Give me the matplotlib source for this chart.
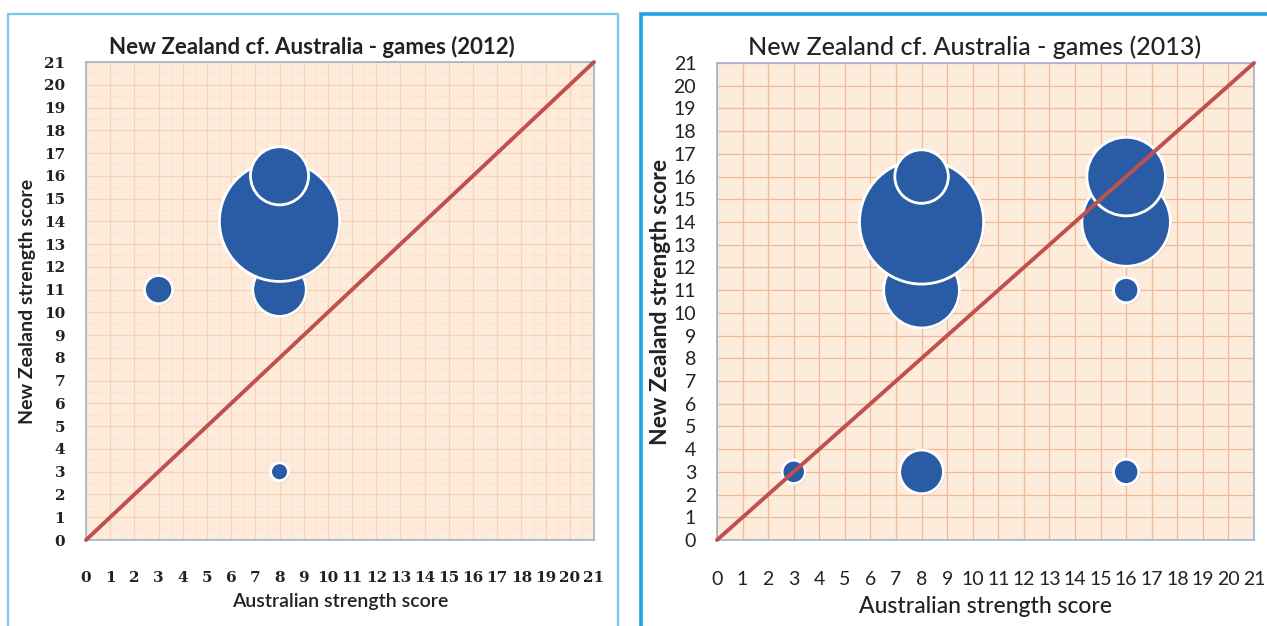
import matplotlib.pyplot as plt
import matplotlib.patheffects as pe
from matplotlib.patches import Rectangle
import numpy as np

# bubble data (Australian score, NZ score, relative bubble area)
aus_2012 = [3, 8, 8, 8, 8]
nz_2012 = [11, 11, 14, 16, 3]
bubble_2012 = [1.25, 4.5, 22.7, 5.3, 0.5]

aus_2013 = [3, 8, 8, 8, 8, 16, 16, 16, 16]
nz_2013 = [3, 3, 11, 14, 16, 3, 11, 14, 16]
bubble_2013 = [0.85, 3.0, 9.0, 24.2, 4.5, 1.0, 1.0, 12.3, 9.7]

diag = [0, 21]
ticks = list(range(0, 22))

title_2012 = 'New Zealand cf. Australia - games (2012)'
title_2013 = 'New Zealand cf. Australia - games (2013)'
xlabel = 'Australian strength score'
ylabel = 'New Zealand strength score'

bubble_color = '#2a5ca6'
line_color = '#c0504d'
bg_color = '#fdebdc'
spine_color = '#9fb2cf'

fig = plt.figure(figsize=(12.67, 6.26), dpi=100)

# panel frames (figure pixels converted to fractions)
W, H = 1267.0, 626.0
fig.patches.append(Rectangle((8 / W, 1 - 640 / H), 610 / W, 626 / H, transform=fig.transFigure,
                             fill=False, edgecolor='#74c8ea', lw=1.6))
fig.patches.append(Rectangle((641 / W, 1 - 640 / H), 640 / W, 626 / H, transform=fig.transFigure,
                             fill=False, edgecolor='#20a3e3', lw=2.6))


def draw_panel(ax, x, y, w, title, tick_font, tick_size, minor, grid_color,
               title_size, title_weight, title_x, lab_size, lab_weight, ylab_x):
    ax.set_facecolor(bg_color)
    ax.set_xlim(0, 21)
    ax.set_ylim(0, 21)
    ax.set_xticks(ticks)
    ax.set_yticks(ticks)
    if minor:
        ax.set_xticks(np.arange(0.5, 21, 1), minor=True)
        ax.set_yticks(np.arange(0.5, 21, 1), minor=True)
        ax.grid(which='minor', color='#fce2cf', lw=0.7)
    ax.grid(which='major', color=grid_color, lw=0.9)
    ax.set_axisbelow(True)
    ax.tick_params(which='both', length=0)
    ax.tick_params(axis='x', pad=22, labelsize=tick_size)
    ax.tick_params(axis='y', pad=15, labelsize=tick_size)
    for lab in ax.get_xticklabels() + ax.get_yticklabels():
        lab.set_fontfamily(tick_font[0])
        lab.set_fontweight(tick_font[1])
        lab.set_color('#222222')
    for s in ax.spines.values():
        s.set_color(spine_color)
        s.set_linewidth(1.2)

    ax.scatter(x, y, s=np.array(w) * 330, color=bubble_color, edgecolors='white',
               linewidths=2, zorder=3, clip_on=False,
               path_effects=[pe.withSimplePatchShadow(offset=(1, -1), shadow_rgbFace='0.4',
                                                      alpha=0.25)])
    ax.plot(diag, diag, color=line_color, lw=2.8, zorder=4, clip_on=False,
            solid_capstyle='round')

    ax.set_title(title, fontfamily='Lato', fontsize=title_size, x=title_x,
                 fontweight=title_weight, pad=6, color='#222222')
    ax.set_xlabel(xlabel, fontfamily='Lato', fontsize=lab_size,
                  fontweight=lab_weight, labelpad=6, color='#222222')
    ax.set_ylabel(ylabel, fontfamily='Lato', fontsize=lab_size,
                  fontweight='bold', color='#222222')
    ax.yaxis.set_label_coords(ylab_x, 0.5)


ax1 = fig.add_axes([86 / W, 1 - 540 / H, 508 / W, 478 / H])
draw_panel(ax1, aus_2012, nz_2012, bubble_2012, title_2012,
           ('DejaVu Serif', 'bold'), 11, True, '#f8d2b3',
           16, 'bold', 0.445, 14, 'semibold', -0.098)

ax2 = fig.add_axes([717 / W, 1 - 540 / H, 537 / W, 477 / H])
draw_panel(ax2, aus_2013, nz_2013, bubble_2013, title_2013,
           ('Lato', 'normal'), 14, False, '#efbb95',
           18, 'medium', 0.479, 16.5, 'medium', -0.086)

fig.savefig('out.png', dpi=100)
